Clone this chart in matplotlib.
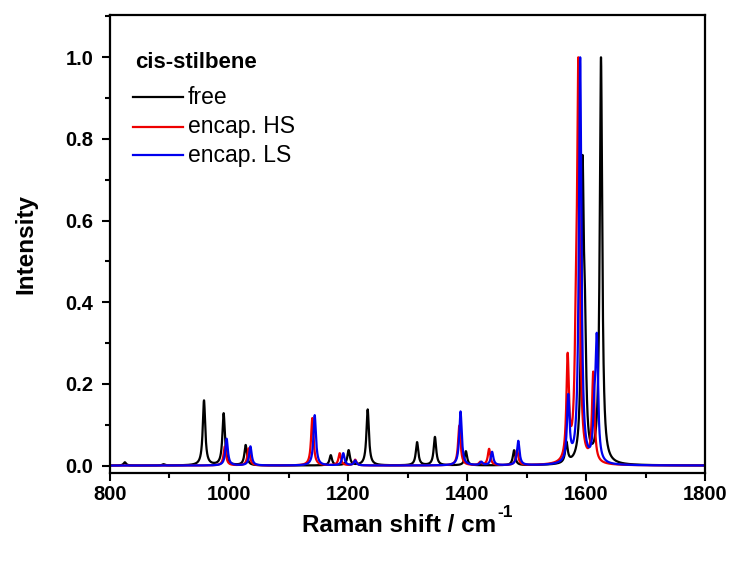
import numpy as np
import matplotlib
matplotlib.use("Agg")
import matplotlib.pyplot as plt
from matplotlib.ticker import MultipleLocator, FormatStrFormatter

plt.rcParams['font.family'] = ['Liberation Sans', 'DejaVu Sans']

# Peak lists (Raman shift in cm-1, relative intensity)
free_pos = [825, 890, 958, 991, 1028, 1171, 1201, 1233, 1316, 1346, 1398, 1479, 1567, 1594, 1598, 1625]
free_int = [0.008, 0.003, 0.16, 0.128, 0.05, 0.025, 0.037, 0.138, 0.057, 0.07, 0.035, 0.037, 0.05, 0.69, 0.24, 1.0]

hs_pos = [993, 1033, 1140, 1186, 1212, 1387, 1422, 1437, 1484, 1569, 1583, 1587, 1612]
hs_int = [0.05, 0.045, 0.125, 0.032, 0.015, 0.105, 0.008, 0.043, 0.04, 0.27, 0.24, 1.0, 0.235]

ls_pos = [996, 1036, 1144, 1192, 1212, 1389, 1424, 1442, 1486, 1570, 1590, 1614, 1618]
ls_int = [0.066, 0.047, 0.124, 0.03, 0.012, 0.133, 0.008, 0.033, 0.06, 0.16, 1.0, 0.1, 0.29]

series_labels = ['free', 'encap. HS', 'encap. LS']
series_colors = ['black', '#ee0000', '#0000ee']
legend_title = 'cis-stilbene'

HWHM = 2.5
x = np.linspace(800, 1800, 8001)


def spectrum(pos, inten):
    y = np.zeros_like(x)
    for p, h in zip(pos, inten):
        y += h * HWHM**2 / ((x - p) ** 2 + HWHM**2)
    return y / y.max()


fig = plt.figure(figsize=(7.33, 5.65), dpi=100)
ax = fig.add_axes([0.150, 0.163, 0.812, 0.810])

for (pos, inten), lab, col in zip([(free_pos, free_int), (hs_pos, hs_int), (ls_pos, ls_int)],
                                  series_labels, series_colors):
    ax.plot(x, spectrum(pos, inten), color=col, lw=1.6, label=lab)

ax.set_xlim(800, 1800)
ax.set_ylim(-0.018, 1.103)
ax.xaxis.set_major_locator(MultipleLocator(200))
ax.xaxis.set_minor_locator(MultipleLocator(100))
ax.yaxis.set_major_locator(MultipleLocator(0.2))
ax.yaxis.set_minor_locator(MultipleLocator(0.1))
ax.yaxis.set_major_formatter(FormatStrFormatter('%.1f'))

for s in ax.spines.values():
    s.set_linewidth(1.6)
ax.tick_params(which='major', direction='out', length=6, width=1.5, labelsize=14.5)
ax.tick_params(axis='x', which='major', pad=3)
ax.tick_params(axis='y', which='major', pad=6)
ax.tick_params(which='minor', direction='out', length=3.5, width=1.5)
for lbl in ax.get_xticklabels() + ax.get_yticklabels():
    lbl.set_fontweight('bold')

ax.set_xlabel('Raman shift / cm', fontsize=17.5, fontweight='bold')
ax.xaxis.set_label_coords(0.485, -0.09)
ax.set_ylabel('Intensity', fontsize=17.5, fontweight='bold')
ax.yaxis.set_label_coords(-0.122, 0.5)
ax.annotate('-1', xy=(1.0, 1.0), xycoords=ax.xaxis.label, xytext=(1, 1),
            textcoords='offset points', ha='left', va='center',
            fontsize=12.5, fontweight='bold')

# legend (drawn in axes coordinates)
ax.text(0.042, 0.897, legend_title, transform=ax.transAxes, fontsize=16,
        fontweight='bold', ha='left', va='center')
row_y = [0.821, 0.756, 0.694]
for yy, lab, col in zip(row_y, series_labels, series_colors):
    ax.plot([0.039, 0.123], [yy, yy], transform=ax.transAxes, color=col, lw=1.6)
    ax.text(0.131, yy, lab, transform=ax.transAxes, fontsize=16.5,
            ha='left', va='center')

fig.savefig('out.png', dpi=100)
